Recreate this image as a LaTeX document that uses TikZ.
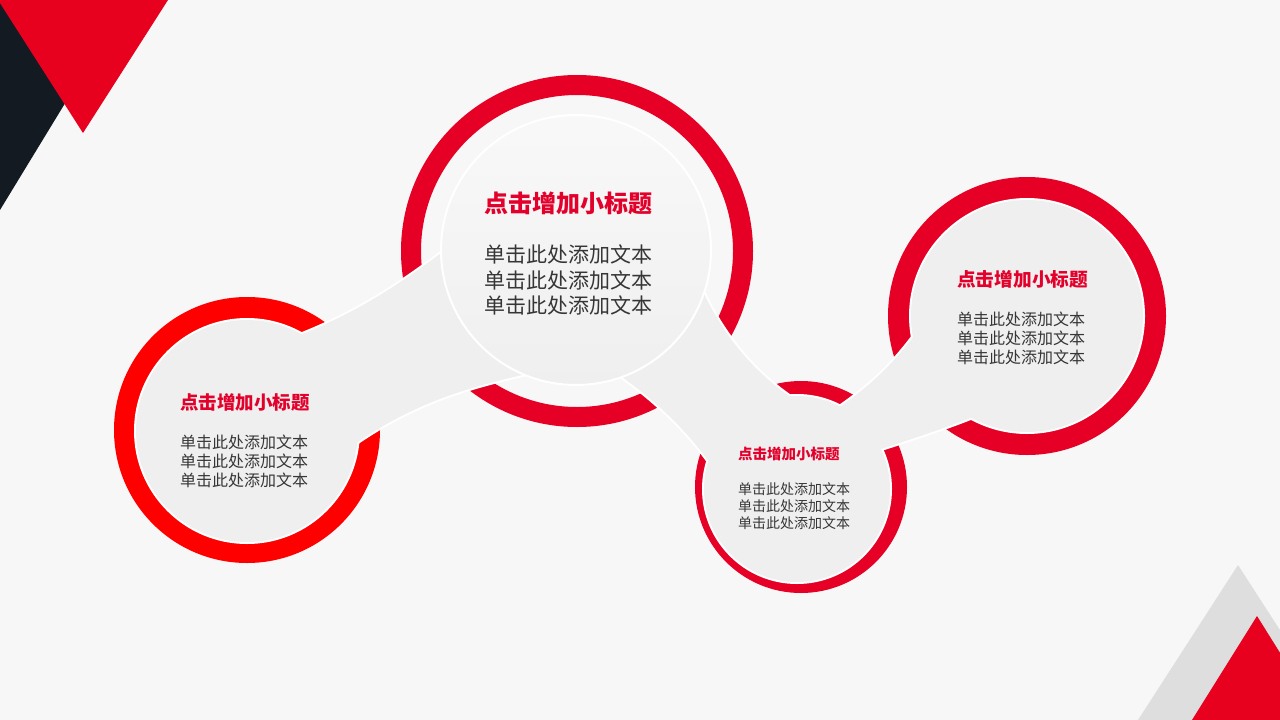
\documentclass[tikz,border=0pt]{standalone}
\usepackage{fontspec}
\newfontfamily\cjk{Noto Sans CJK SC}
\definecolor{bg}{HTML}{F7F7F7}
\definecolor{darktri}{HTML}{131A21}
\definecolor{redmain}{HTML}{E8001F}
\definecolor{ringone}{HTML}{FE0000}
\definecolor{ringred}{HTML}{E60026}
\definecolor{graytri}{HTML}{DEDEDE}
\definecolor{shapefill}{HTML}{EFEFEF}
\definecolor{titlered}{HTML}{E3002B}
\definecolor{bodytext}{HTML}{363636}
\newcommand\chainshapes[1]{%
  \path[#1] (247,431) circle[radius=111pt];
  \path[#1] (797,489) circle[radius=93pt];
  \path[#1] (1027,316) circle[radius=116pt];
  \path[#1] (292,338) .. controls (345,318) and (390,292) .. (445,250) -- (560,300) -- (535,372)
        .. controls (480,385) and (420,398) .. (352,446) -- (250,431) -- cycle;
  \path[#1] (700,285) .. controls (720,330) and (750,370) .. (795,400) -- (760,470) -- (712,466)
        .. controls (690,435) and (662,405) .. (615,372) -- cycle;
  \path[#1] (832,412) .. controls (865,390) and (895,365) .. (925,320) -- (1000,380) -- (985,412)
        .. controls (955,425) and (915,438) .. (872,452) -- cycle;
}
\begin{document}
\begin{tikzpicture}[x=1pt,y=-1pt,
  titletext/.style={anchor=west, inner sep=0pt, text=titlered},
  bodyblock/.style={anchor=west, inner sep=0pt, align=left, text=bodytext},
  outlinepass/.style={draw=white, line width=4pt, line join=round},
  fillpass/.style={fill=shapefill}]
\useasboundingbox (0,0) rectangle (1280,720);
\fill[bg] (0,0) rectangle (1280,720);
% corner triangles
\fill[darktri] (0,0) -- (128,0) -- (0,210) -- cycle;
\fill[redmain] (-2,0) -- (168,0) -- (83,133) -- cycle;
\fill[graytri] (1238,565) -- (1338,720) -- (1138,720) -- cycle;
\fill[redmain] (1257,616) -- (1322,720) -- (1192,720) -- cycle;
% red rings
\fill[ringone, even odd rule] (247,430) circle[radius=133pt] (247,430) circle[radius=105pt];
\fill[ringred, even odd rule] (577,251) circle[radius=176pt] (577,251) circle[radius=156pt];
\fill[ringred, even odd rule] (801,487) circle[radius=106pt] (801,487) circle[radius=88pt];
\fill[ringred, even odd rule] (1027,316) circle[radius=139pt] (1027,316) circle[radius=110pt];
% light chain (outline then fill)
\chainshapes{outlinepass}
\chainshapes{fillpass}
% top disk
\shade[top color=white!60!shapefill, bottom color=shapefill] (576,250) circle[radius=135pt];
\draw[white, line width=2pt] (576,250) circle[radius=135pt];
% texts
\node[titletext, font=\cjk\bfseries\fontsize{24}{28}\selectfont] (t2) at (484,203) {点击增加小标题};
\node[bodyblock, font=\cjk\fontsize{21}{25.5}\selectfont] (b2) at (484,280) {单击此处添加文本\\单击此处添加文本\\单击此处添加文本};
\node[titletext, font=\cjk\bfseries\fontsize{18.5}{22}\selectfont] (t1) at (180,402) {点击增加小标题};
\node[bodyblock, font=\cjk\fontsize{16}{19}\selectfont] (b1) at (180,461) {单击此处添加文本\\单击此处添加文本\\单击此处添加文本};
\node[titletext, font=\cjk\bfseries\fontsize{14.5}{17}\selectfont] (t3) at (738,454) {点击增加小标题};
\node[bodyblock, font=\cjk\fontsize{14}{17}\selectfont] (b3) at (738,506) {单击此处添加文本\\单击此处添加文本\\单击此处添加文本};
\node[titletext, font=\cjk\bfseries\fontsize{18.7}{22}\selectfont] (t4) at (957,279) {点击增加小标题};
\node[bodyblock, font=\cjk\fontsize{16}{19}\selectfont] (b4) at (957,338) {单击此处添加文本\\单击此处添加文本\\单击此处添加文本};
\end{tikzpicture}
\end{document}
